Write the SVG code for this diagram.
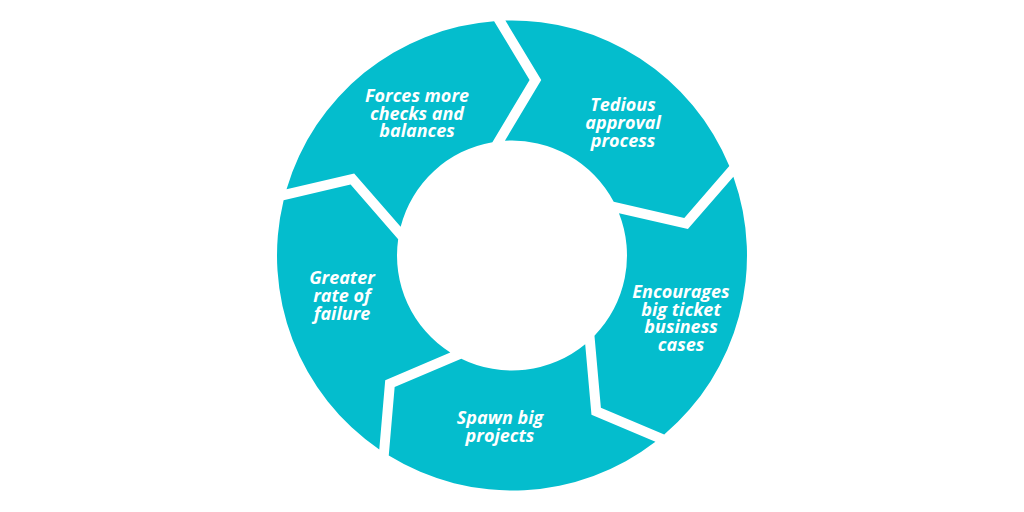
<svg xmlns="http://www.w3.org/2000/svg" xmlns:xlink="http://www.w3.org/1999/xlink" width="1024" height="512" viewBox="0 0 1024 512">
  <style>
    .seg { fill: #04BDCD; }
    .lbl { fill: #FFFFFF; font-family: "Open Sans", "Liberation Sans", sans-serif; font-weight: 700; font-style: italic; font-size: 18px; text-anchor: middle; }
  </style>
  <defs>
    <path id="seg" class="seg" d="M -6.60 -234.91 A 235 235 0 0 1 217.31 -89.44 L 172.28 -37.49 L 101.71 -53.67 A 115 115 0 0 0 -7.08 -114.78 L 29.24 -175.45 Z"/>
  </defs>
  <rect width="1024" height="512" fill="#FFFFFF"/>
  <g id="connectors"></g>
  <g id="node-tedious">
    <use xlink:href="#seg" href="#seg" transform="translate(512 255.5) rotate(0)"/>
    <text class="lbl" x="623" y="111">Tedious</text>
    <text class="lbl" x="623" y="129">approval</text>
    <text class="lbl" x="623" y="147">process</text>
  </g>
  <g id="node-encourages">
    <use xlink:href="#seg" href="#seg" transform="translate(512 255.5) rotate(72)"/>
    <text class="lbl" x="681" y="298">Encourages</text>
    <text class="lbl" x="681" y="315.7">big ticket</text>
    <text class="lbl" x="681" y="333.4">business</text>
    <text class="lbl" x="681" y="351">cases</text>
  </g>
  <g id="node-spawn">
    <use xlink:href="#seg" href="#seg" transform="translate(512 255.5) rotate(144)"/>
    <text class="lbl" x="500" y="424">Spawn big</text>
    <text class="lbl" x="500" y="442">projects</text>
  </g>
  <g id="node-greater">
    <use xlink:href="#seg" href="#seg" transform="translate(512 255.5) rotate(216)"/>
    <text class="lbl" x="342" y="283.5">Greater</text>
    <text class="lbl" x="342" y="301.5">rate of</text>
    <text class="lbl" x="342" y="319.5">failure</text>
  </g>
  <g id="node-forces">
    <use xlink:href="#seg" href="#seg" transform="translate(512 255.5) rotate(288)"/>
    <text class="lbl" x="417" y="102">Forces more</text>
    <text class="lbl" x="417" y="119.7">checks and</text>
    <text class="lbl" x="417" y="137.4">balances</text>
  </g>
</svg>
